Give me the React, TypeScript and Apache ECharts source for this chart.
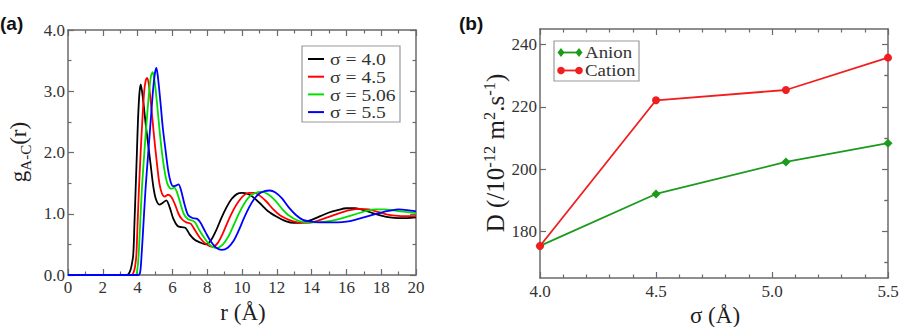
import React, { useEffect, useRef } from "react";
import * as echarts from "echarts";

// Panel (a): anion–cation radial distribution g(r), one curve per σ  [r (Å), g]
const rdfSigma40: [number, number][] = [
  [0, 0], [3.4, 0], [3.55, 0.05], [3.65, 0.15], [3.75, 0.33], [3.82, 0.85], [3.89, 1.42],
  [3.96, 2.0], [4.02, 2.51], [4.1, 2.95], [4.18, 3.11], [4.3, 2.9], [4.45, 2.5], [4.6, 2.15],
  [4.75, 1.8], [4.9, 1.45], [5.05, 1.24], [5.25, 1.15], [5.45, 1.18], [5.65, 1.22], [5.85, 1.1],
  [6.05, 0.92], [6.3, 0.8], [6.55, 0.78], [6.75, 0.77], [7.0, 0.66], [7.3, 0.57], [7.6, 0.53],
  [7.9, 0.5], [8.2, 0.56], [8.5, 0.72], [8.8, 0.92], [9.1, 1.1], [9.4, 1.24], [9.7, 1.32],
  [10.0, 1.34], [10.3, 1.33], [10.6, 1.28], [11.0, 1.18], [11.5, 1.04], [12.0, 0.95], [12.5, 0.88],
  [13.0, 0.85], [13.5, 0.86], [14.0, 0.9], [14.5, 0.96], [15.0, 1.02], [15.5, 1.06], [16.0, 1.09],
  [16.5, 1.09], [17.0, 1.06], [17.5, 1.01], [18.0, 0.97], [18.5, 0.94], [19.0, 0.93], [19.5, 0.93],
  [20, 0.94],
];

const rdfSigma45: [number, number][] = [
  [0, 0], [3.65, 0], [3.78, 0.05], [3.86, 0.15], [3.93, 0.33], [4.0, 0.85], [4.08, 1.42],
  [4.17, 1.97], [4.27, 2.51], [4.38, 3.0], [4.47, 3.18], [4.55, 3.22], [4.65, 3.1], [4.8, 2.7],
  [4.95, 2.25], [5.1, 1.85], [5.25, 1.5], [5.4, 1.33], [5.55, 1.28], [5.75, 1.31], [5.95, 1.27],
  [6.15, 1.15], [6.35, 1.0], [6.55, 0.91], [6.8, 0.86], [7.05, 0.84], [7.3, 0.73], [7.6, 0.6],
  [7.95, 0.5], [8.3, 0.46], [8.6, 0.52], [8.9, 0.68], [9.2, 0.88], [9.5, 1.06], [9.8, 1.2],
  [10.1, 1.3], [10.4, 1.34], [10.7, 1.34], [11.0, 1.3], [11.4, 1.2], [11.8, 1.07], [12.2, 0.97],
  [12.7, 0.9], [13.2, 0.86], [13.7, 0.85], [14.2, 0.87], [14.7, 0.92], [15.2, 0.97], [15.7, 1.02],
  [16.2, 1.06], [16.8, 1.08], [17.3, 1.07], [17.8, 1.03], [18.3, 0.99], [18.8, 0.97], [19.4, 0.96],
  [20, 0.96],
];

const rdfSigma506: [number, number][] = [
  [0, 0], [3.88, 0], [3.98, 0.08], [4.06, 0.33], [4.15, 0.85], [4.25, 1.42], [4.38, 1.97],
  [4.52, 2.51], [4.65, 2.95], [4.77, 3.25], [4.87, 3.31], [4.97, 3.18], [5.1, 2.85], [5.25, 2.4],
  [5.4, 2.0], [5.55, 1.7], [5.7, 1.5], [5.85, 1.42], [6.0, 1.41], [6.1, 1.43], [6.25, 1.36],
  [6.45, 1.18], [6.65, 1.0], [6.9, 0.91], [7.15, 0.89], [7.3, 0.86], [7.55, 0.73], [7.85, 0.6],
  [8.2, 0.48], [8.55, 0.44], [8.9, 0.5], [9.2, 0.62], [9.5, 0.8], [9.8, 0.99], [10.1, 1.15],
  [10.4, 1.27], [10.7, 1.33], [11.1, 1.36], [11.5, 1.32], [11.9, 1.22], [12.3, 1.08], [12.7, 0.97],
  [13.2, 0.89], [13.7, 0.86], [14.2, 0.86], [14.8, 0.87], [15.4, 0.9], [16.0, 0.95], [16.6, 1.0],
  [17.2, 1.05], [17.7, 1.07], [18.2, 1.07], [18.8, 1.05], [19.4, 1.03], [20, 1.01],
];

const rdfSigma55: [number, number][] = [
  [0, 0], [4.05, 0], [4.15, 0.05], [4.23, 0.33], [4.35, 0.9], [4.46, 1.42], [4.6, 1.95],
  [4.75, 2.51], [4.9, 3.06], [5.0, 3.3], [5.08, 3.38], [5.18, 3.2], [5.32, 2.8], [5.45, 2.4],
  [5.6, 2.05], [5.75, 1.72], [5.9, 1.52], [6.05, 1.45], [6.2, 1.46], [6.35, 1.48], [6.5, 1.38],
  [6.7, 1.15], [6.9, 0.98], [7.15, 0.93], [7.4, 0.92], [7.6, 0.86], [7.9, 0.7], [8.2, 0.55],
  [8.5, 0.45], [8.85, 0.41], [9.2, 0.45], [9.5, 0.55], [9.8, 0.72], [10.1, 0.92], [10.4, 1.1],
  [10.7, 1.24], [11.0, 1.33], [11.3, 1.37], [11.6, 1.38], [11.9, 1.35], [12.3, 1.25], [12.7, 1.1],
  [13.1, 0.98], [13.5, 0.9], [14.0, 0.87], [14.5, 0.86], [15.0, 0.86], [15.5, 0.86], [16.0, 0.87],
  [16.5, 0.9], [17.0, 0.94], [17.5, 0.98], [18.0, 1.02], [18.5, 1.05], [19.0, 1.07], [19.5, 1.06],
  [20, 1.04],
];

const rdfNames = ["σ = 4.0", "σ = 4.5", "σ = 5.06", "σ = 5.5"];
const rdfColors = ["#000000", "#ff0000", "#00e000", "#0000ff"];

// Panel (b): diffusion coefficients vs σ
const sigmaValues = [4.0, 4.5, 5.06, 5.5];
const anionD = [175.3, 192.0, 202.3, 208.3];
const cationD = [175.3, 222.1, 225.4, 235.8];
const diffNames = ["Anion", "Cation"];
const diffColors = ["#1c9a1c", "#f01e1e"];

// Tick labels
const rTicks = [0, 2, 4, 6, 8, 10, 12, 14, 16, 18, 20];
const gTicks = [0, 1, 2, 3, 4];
const sigmaTicks = [4.0, 4.5, 5.0, 5.5];
const dMajorTicks = [180, 200, 220, 240];
const dMinorTicks = [170, 190, 210, 230];

const SERIF = "Liberation Serif, Times New Roman, serif";
const FRAME = "#6a6a6a";
const TICK_TEXT = "#333333";
const TITLE_TEXT = "#1e1e1e";

let measureCtx: CanvasRenderingContext2D | null = null;
function textWidth(text: string, size: number): number {
  if (!measureCtx) measureCtx = document.createElement("canvas").getContext("2d");
  if (!measureCtx) return text.length * size * 0.5;
  measureCtx.font = `${size}px ${SERIF}`;
  return measureCtx.measureText(text).width;
}

type Piece = { t: string; size: number; shift: number };

// Vertical (bottom-to-top) axis title with sub/superscripts; (x, y) = baseline x, centre y
function rotatedTitle(pieces: Piece[], x: number, y: number) {
  const widths = pieces.map((p) => textWidth(p.t, p.size));
  const total = widths.reduce((a, b) => a + b, 0);
  let cur = -total / 2;
  const children = pieces.map((p, i) => {
    const el = {
      type: "text",
      x: cur,
      y: p.shift - 0.3 * p.size,
      style: {
        text: p.t,
        font: `${p.size}px ${SERIF}`,
        fill: TITLE_TEXT,
        align: "left",
        verticalAlign: "middle",
      },
    };
    cur += widths[i];
    return el;
  });
  return { type: "group", x, y, rotation: Math.PI / 2, children };
}

function label(
  text: string, x: number, y: number, size: number, align: string,
  color = TICK_TEXT, scaleX = 1
) {
  return {
    type: "text",
    x,
    y,
    z: 10,
    scaleX,
    style: { text, font: `${size}px ${SERIF}`, fill: color, align, verticalAlign: "middle" },
  };
}

function frameAxis(extra: any) {
  return {
    type: "value",
    axisLine: { show: true, onZero: false, lineStyle: { color: FRAME, width: 1.5 } },
    axisTick: { show: true, inside: true, length: 6, lineStyle: { color: FRAME, width: 1.2 } },
    minorTick: { show: false },
    splitLine: { show: false },
    axisLabel: { show: false },
    ...extra,
  };
}

function minorTick(n: number) {
  return { show: true, splitNumber: n, length: 3.5, lineStyle: { color: FRAME, width: 1.2 } };
}

function customTicks(values: number[], length: number) {
  return {
    show: true, inside: true, length, customValues: values,
    lineStyle: { color: FRAME, width: 1.2 },
  };
}

export default function App() {
  const ref = useRef<HTMLDivElement>(null);

  useEffect(() => {
    if (!ref.current) return;
    const chart = echarts.init(ref.current, null, { renderer: "svg" });

    const rdfSets = [rdfSigma40, rdfSigma45, rdfSigma506, rdfSigma55];

    const xAxis = [
      frameAxis({ gridIndex: 0, min: 0, max: 20, interval: 2, minorTick: minorTick(2) }),
      frameAxis({ gridIndex: 0, position: "top", min: 0, max: 20, interval: 2, minorTick: minorTick(2) }),
      frameAxis({ gridIndex: 1, min: 4, max: 5.5, interval: 0.5, minorTick: minorTick(5) }),
      frameAxis({ gridIndex: 1, position: "top", min: 4, max: 5.5, interval: 0.5, minorTick: minorTick(5) }),
    ];

    const yAxis = [
      frameAxis({ gridIndex: 0, min: 0, max: 4, interval: 1, minorTick: minorTick(2) }),
      frameAxis({ gridIndex: 0, position: "right", min: 0, max: 4, interval: 1, minorTick: minorTick(2) }),
      frameAxis({ gridIndex: 1, min: 165, max: 245, axisTick: customTicks(dMajorTicks, 6) }),
      frameAxis({
        gridIndex: 1, min: 165, max: 245, axisLine: { show: false },
        axisTick: customTicks(dMinorTicks, 3.5),
      }),
      frameAxis({
        gridIndex: 1, position: "right", min: 165, max: 245, axisTick: customTicks(dMajorTicks, 6),
      }),
      frameAxis({
        gridIndex: 1, position: "right", min: 165, max: 245, axisLine: { show: false },
        axisTick: customTicks(dMinorTicks, 3.5),
      }),
    ];

    const rdfSeries = rdfSets.map((data, i) => ({
      name: rdfNames[i],
      type: "line",
      xAxisIndex: 0,
      yAxisIndex: 0,
      data,
      symbol: "none",
      smooth: 0.3,
      color: rdfColors[i],
      lineStyle: { color: rdfColors[i], width: 1.8 },
      z: 2 + i,
    }));

    const diffSets = [anionD, cationD];
    const diffSeries = diffSets.map((vals, i) => ({
      name: diffNames[i],
      type: "line",
      xAxisIndex: 2,
      yAxisIndex: 2,
      data: sigmaValues.map((s, k) => [s, vals[k]]),
      symbol: i === 0 ? "diamond" : "circle",
      symbolSize: i === 0 ? 9 : 8,
      color: diffColors[i],
      lineStyle: { color: diffColors[i], width: 1.8 },
      itemStyle: { color: diffColors[i] },
      z: 3 + i,
    }));

    chart.setOption({
      animation: false,
      backgroundColor: "#ffffff",
      grid: [
        { left: 68, top: 30, width: 348, height: 245 },
        { left: 540, top: 29, width: 348, height: 249 },
      ],
      xAxis,
      yAxis,
      series: [...rdfSeries, ...diffSeries],
    });

    // Tick labels placed through the axes' own value-to-pixel mapping
    const px = (grid: number, v: [number, number]) =>
      chart.convertToPixel({ gridIndex: grid }, v) as number[];

    const tickLabels: any[] = [];
    rTicks.forEach((r) => {
      const p = px(0, [r, 0]);
      tickLabels.push(label(String(r), p[0], p[1] + 12, 17, "center"));
    });
    gTicks.forEach((g) => {
      const p = px(0, [0, g]);
      tickLabels.push(label(g.toFixed(1), p[0] - 3, p[1], 17, "right"));
    });
    sigmaTicks.forEach((s) => {
      const p = px(1, [s, 165]);
      tickLabels.push(label(s.toFixed(1), p[0], p[1] + 13, 17, "center"));
    });
    dMajorTicks.forEach((d) => {
      const p = px(1, [4, d]);
      tickLabels.push(label(String(d), p[0] - 3, p[1], 17, "right"));
    });

    // Legend of panel (a)
    const legendA: any[] = [
      {
        type: "rect", z: 10,
        shape: { x: 302, y: 46, width: 98, height: 76 },
        style: { fill: "#ffffff", stroke: "#9a9a9a", lineWidth: 1.2 },
      },
    ];
    rdfNames.forEach((name, i) => {
      const y = 59 + i * 17.7;
      legendA.push({
        type: "line", z: 11,
        shape: { x1: 308, y1: y, x2: 324, y2: y },
        style: { stroke: rdfColors[i], lineWidth: 2 },
      });
      legendA.push(label(name, 330, y, 17.5, "left", TICK_TEXT, 1.12));
    });

    // Legend of panel (b): line with a marker at each end
    const legendB: any[] = [
      {
        type: "rect", z: 10,
        shape: { x: 554, y: 41, width: 85, height: 40 },
        style: { fill: "#ffffff", stroke: "#9a9a9a", lineWidth: 1.2 },
      },
    ];
    diffNames.forEach((name, i) => {
      const y = 52.5 + i * 18;
      const c = diffColors[i];
      legendB.push({
        type: "line", z: 11,
        shape: { x1: 561, y1: y, x2: 579, y2: y },
        style: { stroke: c, lineWidth: 1.8 },
      });
      [561, 579].forEach((cx) => {
        if (i === 0) {
          legendB.push({
            type: "polygon", z: 12,
            shape: { points: [[cx, y - 4.5], [cx + 3.5, y], [cx, y + 4.5], [cx - 3.5, y]] },
            style: { fill: c },
          });
        } else {
          legendB.push({
            type: "circle", z: 12,
            shape: { cx, cy: y, r: 3.8 },
            style: { fill: c },
          });
        }
      });
      legendB.push(label(name, 585, y, 17.5, "left", TICK_TEXT, 1.08));
    });

    chart.setOption({
      graphic: [
        {
          type: "text", x: 0, y: 23,
          style: {
            text: "(a)", font: "bold 19px Liberation Sans, Arial, sans-serif",
            fill: "#111111", align: "left", verticalAlign: "middle",
          },
        },
        {
          type: "text", x: 459, y: 23,
          style: {
            text: "(b)", font: "bold 19px Liberation Sans, Arial, sans-serif",
            fill: "#111111", align: "left", verticalAlign: "middle",
          },
        },
        label("r (Å)", 243, 312, 23, "center", TITLE_TEXT),
        label("σ (Å)", 715, 315, 23, "center", TITLE_TEXT),
        rotatedTitle(
          [
            { t: "g", size: 23, shift: 0 },
            { t: "A-C", size: 15, shift: 5 },
            { t: "(r)", size: 23, shift: 0 },
          ],
          25,
          152
        ),
        rotatedTitle(
          [
            { t: "D (/10", size: 25, shift: 0 },
            { t: "-12", size: 16.5, shift: -9 },
            { t: " m", size: 25, shift: 0 },
            { t: "2", size: 16.5, shift: -9 },
            { t: ".s", size: 25, shift: 0 },
            { t: "-1", size: 16.5, shift: -9 },
            { t: ")", size: 25, shift: 0 },
          ],
          503,
          153
        ),
        ...tickLabels,
        ...legendA,
        ...legendB,
      ],
    });

    return () => chart.dispose();
  }, []);

  return (
    <div
      ref={ref}
      style={{ position: "fixed", left: 0, top: 0, width: 901, height: 327, background: "#fff" }}
    />
  );
}
